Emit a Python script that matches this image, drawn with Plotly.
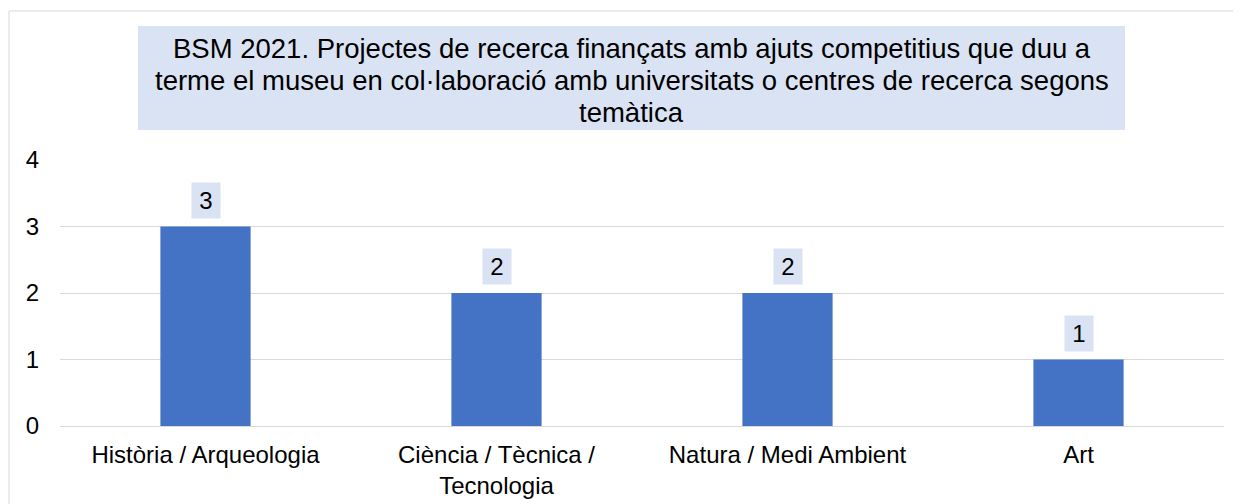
import plotly.graph_objects as go

categories = ["Història / Arqueologia", "Ciència / Tècnica /<br>Tecnologia", "Natura / Medi Ambient", "Art"]
values = [3, 2, 2, 1]
y_ticks = [0, 1, 2, 3, 4]
title_lines = [
    "BSM 2021. Projectes de recerca finançats amb ajuts competitius que duu a",
    "terme el museu en col·laboració amb universitats o centres de recerca segons",
    "temàtica",
]

FONT = "Liberation Sans, Arial, sans-serif"
BAR = "#4472C4"
BOX = "#DAE3F3"

fig = go.Figure(go.Bar(x=categories, y=values, marker=dict(color=BAR, line=dict(width=0)),
                       hoverinfo="x+y"))

W, H = 1241, 504
OFF = 8  # page body margin
PL, PR, PT, PB = 60 - OFF, 1224 - OFF, 160 - OFF, 426 - OFF
L, R, T, B = PL, W - PR, PT, H - PB
pw, ph = PR - PL, PB - PT

def px_x(p):
    return (p - OFF - PL) / pw

def px_y(p):
    return (PB - (p - OFF)) / ph

shapes = [
    dict(type="rect", xref="paper", yref="paper", x0=px_x(9), x1=px_x(1270), y0=px_y(540), y1=px_y(11),
         line=dict(color="#D9D9D9", width=1), fillcolor="rgba(0,0,0,0)", layer="below"),
    dict(type="rect", xref="paper", yref="paper", x0=px_x(138), x1=px_x(1125), y0=px_y(130), y1=px_y(26),
         line=dict(width=0), fillcolor=BOX, layer="below"),
]

annotations = []
title_y = [48, 80, 112]
for line, ty in zip(title_lines, title_y):
    annotations.append(dict(text=line, xref="paper", yref="paper", x=(px_x(138) + px_x(1125)) / 2,
                            y=px_y(ty), xanchor="center", yanchor="middle", showarrow=False,
                            font=dict(family=FONT, size=27.5, color="#000000")))
for c, v in zip(categories, values):
    annotations.append(dict(x=c, y=v, text=str(v), showarrow=False, xanchor="center", yanchor="bottom",
                            yshift=8, bgcolor=BOX, width=18, height=25, borderpad=5,
                            font=dict(family=FONT, size=24, color="#000000")))

fig.update_layout(
    width=W, height=H,
    margin=dict(l=L, r=R, t=T, b=B, pad=0),
    paper_bgcolor="white", plot_bgcolor="white",
    bargap=0.69,
    showlegend=False,
    font=dict(family=FONT, size=24, color="#000000"),
    xaxis=dict(showgrid=False, showline=False, ticks="", tickfont=dict(size=24, color="#000000"),
               ticklabelstandoff=12, fixedrange=True),
    yaxis=dict(range=[0, 4], tickvals=y_ticks, showgrid=True, gridcolor="#D9D9D9", gridwidth=1,
               zeroline=True, zerolinecolor="#D9D9D9", zerolinewidth=1, showline=False, ticks="",
               tickfont=dict(size=24, color="#000000"), ticklabelstandoff=20, fixedrange=True),
    shapes=shapes,
    annotations=annotations,
)

fig.write_html("out.html")
